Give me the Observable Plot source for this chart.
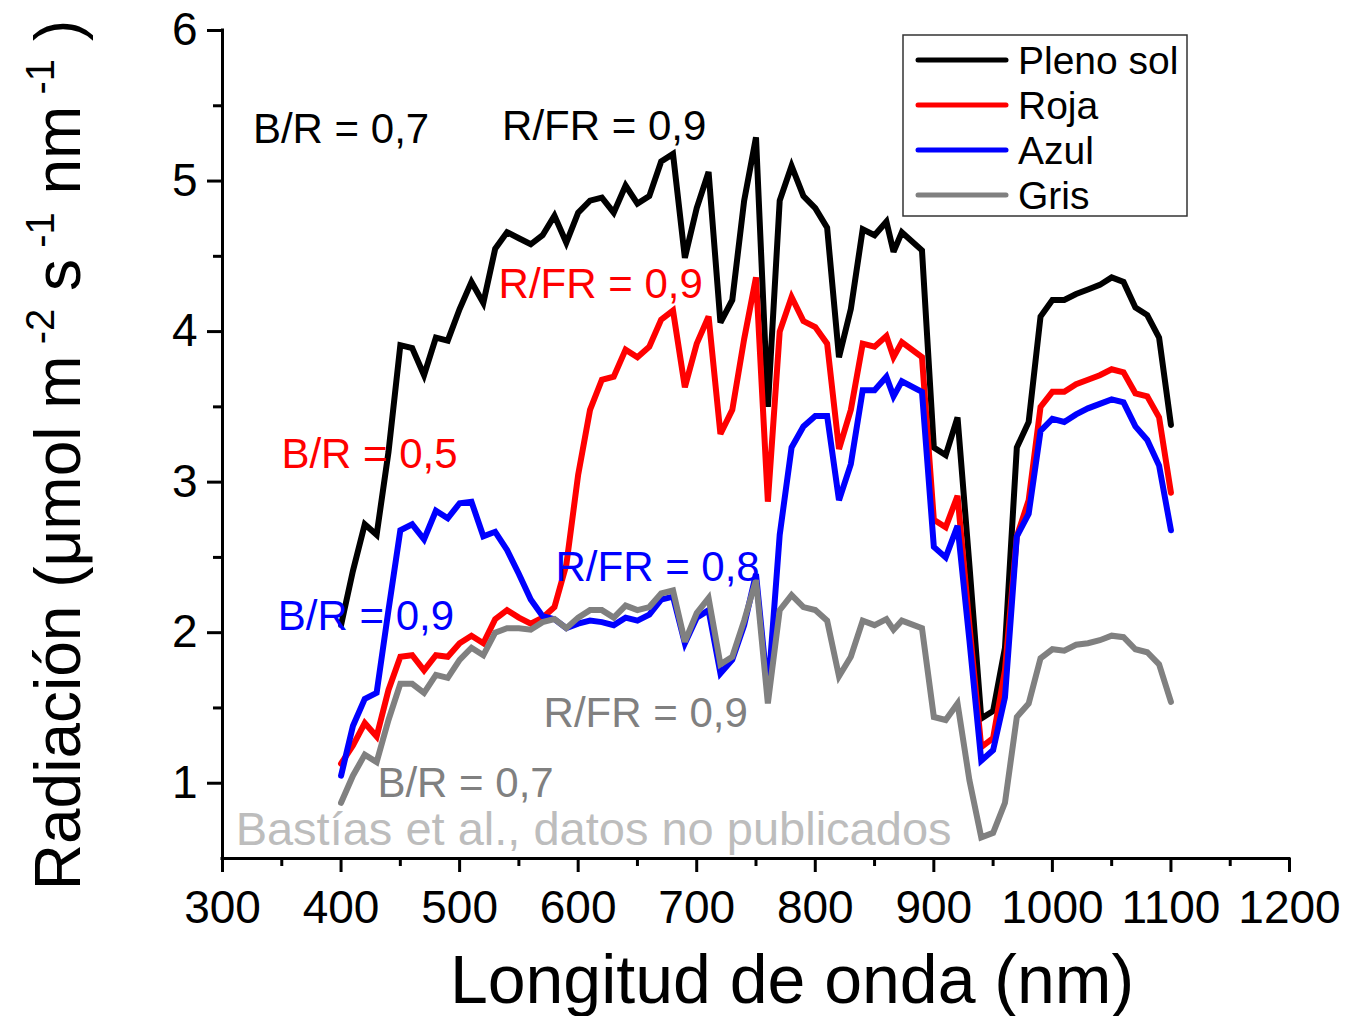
<!DOCTYPE html>
<html><head><meta charset="utf-8">
<script src="https://cdn.jsdelivr.net/npm/d3@7"></script>
<script src="https://cdn.jsdelivr.net/npm/@observablehq/plot@0.6"></script>
<style>body{margin:0;background:#fff;} #chart{width:1347px;height:1016px;}</style>
</head><body><div id="chart"></div>
<script>
const wavelengths = [400,410,420,430,440,450,460,470,480,490,500,510,520,530,540,550,560,570,580,590,600,610,620,630,640,650,660,670,680,690,700,710,720,730,740,750,760,770,780,790,800,810,820,830,840,850,860,866,873,890,900,910,920,930,940,950,960,970,980,990,1000,1010,1020,1030,1040,1050,1060,1070,1080,1090,1100];

const plenoSol = [2.05,2.41,2.72,2.65,3.2,3.91,3.89,3.71,3.96,3.94,4.15,4.33,4.19,4.55,4.66,4.62,4.58,4.64,4.77,4.59,4.79,4.87,4.89,4.79,4.97,4.85,4.9,5.13,5.18,4.49,4.82,5.06,4.06,4.21,4.87,5.29,3.5,4.87,5.1,4.9,4.82,4.69,3.83,4.15,4.68,4.64,4.73,4.53,4.66,4.54,3.23,3.18,3.43,2.45,1.43,1.48,1.9,3.23,3.4,4.1,4.21,4.21,4.25,4.28,4.31,4.36,4.33,4.16,4.11,3.96,3.38];

const roja = [1.13,1.25,1.4,1.31,1.62,1.84,1.85,1.75,1.85,1.84,1.93,1.98,1.93,2.09,2.15,2.1,2.06,2.1,2.17,2.45,3.05,3.48,3.68,3.7,3.88,3.83,3.9,4.08,4.14,3.63,3.92,4.1,3.32,3.48,3.95,4.36,2.87,4.0,4.23,4.07,4.03,3.92,3.22,3.48,3.92,3.9,3.97,3.83,3.93,3.83,2.75,2.7,2.91,2.05,1.24,1.3,1.75,2.64,2.88,3.5,3.6,3.6,3.65,3.68,3.71,3.75,3.73,3.59,3.57,3.43,2.93];

const azul = [1.05,1.38,1.56,1.6,2.15,2.68,2.72,2.62,2.81,2.76,2.86,2.87,2.64,2.67,2.55,2.39,2.22,2.11,2.09,2.03,2.06,2.08,2.07,2.05,2.1,2.08,2.12,2.22,2.24,1.93,2.1,2.15,1.73,1.82,2.05,2.39,1.6,2.65,3.23,3.37,3.44,3.44,2.88,3.12,3.61,3.61,3.7,3.57,3.67,3.6,2.57,2.5,2.71,1.95,1.15,1.22,1.57,2.64,2.79,3.34,3.42,3.4,3.45,3.49,3.52,3.55,3.53,3.37,3.28,3.11,2.68];

const gris = [0.87,1.05,1.19,1.14,1.42,1.66,1.66,1.6,1.72,1.7,1.82,1.9,1.85,2.0,2.03,2.03,2.02,2.07,2.09,2.03,2.1,2.15,2.15,2.1,2.18,2.15,2.17,2.26,2.28,1.94,2.13,2.23,1.79,1.84,2.08,2.35,1.53,2.15,2.25,2.17,2.15,2.08,1.71,1.84,2.08,2.05,2.09,2.02,2.08,2.03,1.44,1.42,1.53,1.02,0.64,0.67,0.87,1.44,1.53,1.83,1.89,1.88,1.92,1.93,1.95,1.98,1.97,1.89,1.87,1.79,1.54];

const seriesNames = ["Pleno sol", "Roja", "Azul", "Gris"];
const seriesColors = ["#000000", "#ff0000", "#0000ff", "#808080"];
const seriesValues = [plenoSol, roja, azul, gris];

const xTicks = [300,400,500,600,700,800,900,1000,1100,1200];
const xMinorTicks = [350,450,550,650,750,850,950,1050,1150];
const yTicks = [1,2,3,4,5,6];
const yMinorTicks = [1.5,2.5,3.5,4.5,5.5];

const noteNames = ["Pleno sol","Pleno sol","Roja","Roja","Azul","Azul","Gris","Gris"];
const noteLabels = ["B/R = 0,7","R/FR = 0,9","R/FR = 0,9","B/R = 0,5","R/FR = 0,8","B/R = 0,9","R/FR = 0,9","B/R = 0,7"];
const noteWl = [400,622,619,424,667,421,657,505];
const noteVal = [5.34,5.36,4.31,3.18,2.43,2.11,1.46,1.0];

const sourceText = "Bastías et al., datos no publicados";
const sourceWl = 613;
const sourceVal = 0.69;
const xTitle = "Longitud de onda (nm)";

const data = seriesNames.flatMap((name, s) => seriesValues[s].map((v, i) => ({wl: wavelengths[i], v, name})));
const notes = noteLabels.map((label, i) => ({label, name: noteNames[i], wl: noteWl[i], v: noteVal[i]}));

const font = "Liberation Sans, Arial, sans-serif";

const plot = Plot.plot({
  width: 1347, height: 1016,
  marginLeft: 222, marginRight: 58, marginTop: 30, marginBottom: 158,
  style: {fontFamily: font, background: "#fff", color: "#000", overflow: "visible"},
  x: {domain: [300, 1200]},
  y: {domain: [0.5, 6]},
  color: {domain: seriesNames, range: seriesColors},
  marks: [
    Plot.axisX({ticks: xTicks, tickSize: 14, tickPadding: 18, fontSize: 46, strokeWidth: 3, label: null, tickFormat: d => String(d)}),
    Plot.axisX({ticks: xMinorTicks, tickSize: 8, strokeWidth: 3, label: null, tickFormat: () => ""}),
    Plot.axisY({ticks: yTicks, tickSize: 15, tickPadding: 10, fontSize: 46, strokeWidth: 3, label: null, tickFormat: d => String(d)}),
    Plot.axisY({ticks: yMinorTicks, tickSize: 9, strokeWidth: 3, label: null, tickFormat: () => ""}),
    Plot.ruleX([300], {y1: 0.5, y2: 6, strokeWidth: 3, strokeLinecap: "square"}),
    Plot.ruleY([0.5], {x1: 300, x2: 1200, strokeWidth: 3, strokeLinecap: "square"}),
    Plot.line(data, {x: "wl", y: "v", z: "name", stroke: "name", strokeWidth: 6, strokeLinejoin: "miter", strokeMiterlimit: 3}),
    Plot.text(notes, {x: "wl", y: "v", text: "label", fill: "name", fontSize: 42}),
    Plot.text([sourceText], {x: sourceWl, y: sourceVal, text: d => d, fill: "#bdbdbd", fontSize: 47})
  ]
});

document.getElementById("chart").appendChild(plot);

const svg = d3.select(plot);

// x title
svg.append("text")
  .attr("x", 792).attr("y", 1003)
  .attr("text-anchor", "middle")
  .attr("font-family", font).attr("font-size", 68).attr("fill", "#000")
  .text(xTitle);

// y title with superscripts
const yt = svg.append("text")
  .attr("transform", "translate(80,455) rotate(-90)")
  .attr("text-anchor", "middle")
  .attr("font-family", font).attr("font-size", 64).attr("fill", "#000");
yt.append("tspan").text("Radiación (μmol m");
yt.append("tspan").attr("font-size", 40).attr("dy", -26).text(" -2");
yt.append("tspan").attr("dy", 26).text(" s");
yt.append("tspan").attr("font-size", 40).attr("dy", -26).text(" -1");
yt.append("tspan").attr("dy", 26).text(" nm");
yt.append("tspan").attr("font-size", 40).attr("dy", -26).text(" -1");
yt.append("tspan").attr("dy", 26).text(" )");

// legend
const lg = svg.append("g").attr("text-anchor", "start");
lg.append("rect").attr("x", 903).attr("y", 35).attr("width", 284).attr("height", 181)
  .attr("fill", "#fff").attr("stroke", "#333").attr("stroke-width", 1.5);
seriesNames.forEach((name, i) => {
  const y = 60 + i * 45;
  lg.append("line").attr("x1", 918).attr("x2", 1006).attr("y1", y).attr("y2", y)
    .attr("stroke", seriesColors[i]).attr("stroke-width", 5).attr("stroke-linecap", "round");
  lg.append("text").attr("x", 1018).attr("y", y).attr("dy", "0.35em")
    .attr("text-anchor", "start")
    .attr("font-family", font).attr("font-size", 39).attr("fill", "#000").text(name);
});
</script>
</body></html>
